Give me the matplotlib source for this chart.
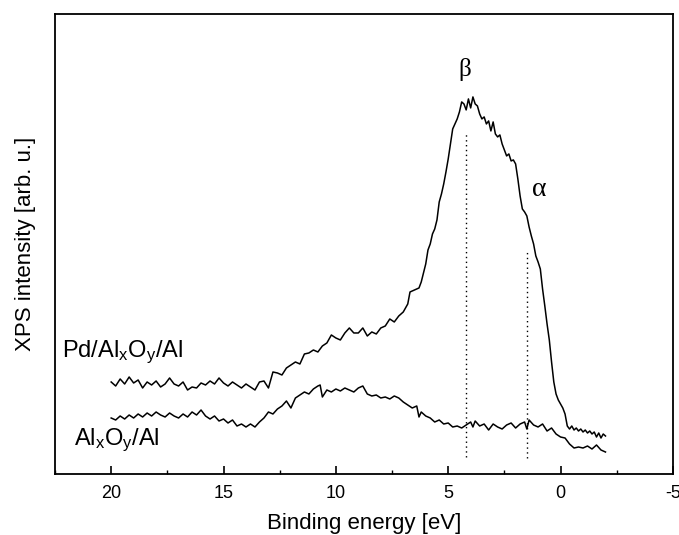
import numpy as np
import matplotlib
matplotlib.use("Agg")
import matplotlib.pyplot as plt
from matplotlib.ticker import MultipleLocator

# --- data (intensity in arbitrary units) ---
pd_energy = [20.0, 19.8, 19.6, 19.4, 19.2, 19.0, 18.8, 18.6, 18.4, 18.2, 18.0, 17.8, 17.6, 17.4,
             17.2, 17.0, 16.8, 16.6, 16.4, 16.2, 16.0, 15.8, 15.6, 15.4, 15.2, 15.0, 14.8, 14.6,
             14.4, 14.2, 14.0, 13.8, 13.6, 13.4, 13.2, 13.0, 12.8, 12.6, 12.4, 12.2, 12.0, 11.8,
             11.6, 11.4, 11.2, 11.0, 10.8, 10.6, 10.4, 10.2, 10.0, 9.8, 9.6, 9.4, 9.2, 9.0, 8.8,
             8.6, 8.4, 8.2, 8.0, 7.8, 7.6, 7.4, 7.2, 7.0, 6.8, 6.7, 6.5, 6.3, 6.2, 6.0, 5.9, 5.8,
             5.7, 5.6, 5.5, 5.4, 5.3, 5.2, 5.1, 5.0, 4.9, 4.8, 4.7, 4.6, 4.5, 4.4, 4.3, 4.2, 4.1,
             4.0, 3.9, 3.8, 3.7, 3.6, 3.5, 3.4, 3.3, 3.2, 3.1, 3.0, 2.9, 2.8, 2.7, 2.6, 2.5, 2.4,
             2.3, 2.2, 2.1, 2.0, 1.9, 1.8, 1.7, 1.6, 1.5, 1.4, 1.3, 1.2, 1.1, 1.0, 0.9, 0.8, 0.7,
             0.6, 0.5, 0.4, 0.3, 0.2, 0.1, 0.0, -0.1, -0.2, -0.3, -0.4, -0.5, -0.6, -0.7, -0.8,
             -0.9, -1.0, -1.1, -1.2, -1.3, -1.4, -1.5, -1.6, -1.7, -1.8, -1.9, -2.0]
pd_counts = [92, 88, 95, 90, 97, 91, 94, 86, 92, 89, 93, 87, 90, 96,
             90, 88, 92, 84, 87, 86, 91, 89, 93, 90, 96, 91, 88, 92,
             89, 86, 90, 87, 84, 92, 93, 86, 102, 101, 99, 106, 109, 112,
             110, 120, 121, 124, 122, 128, 131, 139, 136, 134, 141, 146, 141, 141, 146,
             138, 142, 140, 146, 148, 155, 152, 158, 162, 170, 182, 184, 186, 192, 210, 224, 230,
             240, 245, 254, 272, 280, 290, 302, 315, 330, 345, 350, 355, 362, 372, 370, 364, 375,
             366, 377, 370, 368, 360, 355, 357, 350, 353, 343, 352, 340, 337, 339, 330, 324, 318,
             320, 313, 314, 310, 295, 278, 265, 262, 258, 247, 238, 230, 218, 212, 205, 185, 168,
             150, 134, 112, 92, 80, 74, 70, 66, 60, 48, 45, 48, 44, 46, 43,
             45, 42, 44, 41, 43, 40, 42, 37, 41, 36, 40, 38]

al_energy = [20.0, 19.8, 19.6, 19.4, 19.2, 19.0, 18.8, 18.6, 18.4, 18.2, 18.0, 17.8, 17.6, 17.4,
             17.2, 17.0, 16.8, 16.6, 16.4, 16.2, 16.0, 15.8, 15.6, 15.4, 15.2, 15.0, 14.8, 14.6,
             14.4, 14.2, 14.0, 13.8, 13.6, 13.4, 13.2, 13.0, 12.8, 12.6, 12.4, 12.2, 12.0, 11.8,
             11.6, 11.4, 11.2, 11.0, 10.8, 10.7, 10.6, 10.4, 10.2, 10.0, 9.8, 9.6, 9.4, 9.2, 9.0,
             8.8, 8.6, 8.4, 8.2, 8.0, 7.8, 7.6, 7.4, 7.2, 7.0, 6.8, 6.6, 6.4, 6.3, 6.2, 6.0, 5.8,
             5.6, 5.4, 5.2, 5.0, 4.8, 4.6, 4.4, 4.2, 4.0, 3.9, 3.8, 3.6, 3.4, 3.2, 3.0, 2.8, 2.6,
             2.4, 2.2, 2.0, 1.8, 1.6, 1.5, 1.4, 1.2, 1.0, 0.8, 0.6, 0.4, 0.2, 0.0, -0.2, -0.4,
             -0.6, -0.8, -1.0, -1.2, -1.4, -1.6, -1.8, -2.0]
al_counts = [56, 54, 58, 55, 59, 56, 60, 57, 61, 58, 62, 59, 57, 61,
             58, 56, 60, 57, 62, 59, 64, 58, 55, 58, 53, 55, 51, 54,
             48, 50, 47, 50, 47, 52, 56, 62, 60, 65, 68, 73, 66, 76,
             79, 82, 80, 85, 88, 89, 77, 84, 82, 85, 83, 86, 84, 82, 86,
             88, 80, 78, 79, 76, 77, 75, 78, 76, 72, 69, 66, 68, 57, 62, 58, 56,
             52, 54, 50, 51, 47, 48, 46, 49, 52, 47, 53, 48, 50, 44, 50, 47, 45,
             49, 51, 46, 50, 52, 45, 54, 49, 47, 50, 43, 46, 40, 37, 36, 30,
             26, 27, 26, 28, 25, 29, 24, 22]

# peak positions marked with dotted lines: (energy, bottom, top)
beta_line = (4.22, 17, 342)
alpha_line = (1.5, 16, 224)

plt.rcParams['font.family'] = ['Liberation Sans', 'DejaVu Sans']
plt.rcParams['mathtext.fontset'] = 'custom'
plt.rcParams['mathtext.rm'] = 'Liberation Sans'
plt.rcParams['mathtext.default'] = 'rm'
plt.rcParams['axes.unicode_minus'] = False

fig = plt.figure(figsize=(6.79, 5.35), dpi=100)
ax = fig.add_axes([0.081, 0.114, 0.910, 0.860])

ax.plot(pd_energy, pd_counts, color='black', linewidth=1.1)
ax.plot(al_energy, al_counts, color='black', linewidth=1.1)

for x, y0, y1 in (beta_line, alpha_line):
    ax.vlines(x, y0, y1, colors='black', linestyles=(0, (1, 2.5)), linewidth=1.0)

ax.text(4.27, 404, 'β', family='Liberation Serif', fontsize=18, ha='center', va='center')
ax.text(0.93, 284, 'α', family='Liberation Serif', fontsize=20, ha='center', va='center')
ax.text(22.2, 122, 'Pd/Al$_x$O$_y$/Al', fontsize=17, ha='left', va='center')
ax.text(21.65, 34, 'Al$_x$O$_y$/Al', fontsize=17, ha='left', va='center')

ax.set_xlim(22.5, -5)
ax.set_ylim(0, 460)
ax.xaxis.set_major_locator(MultipleLocator(5))
ax.xaxis.set_minor_locator(MultipleLocator(2.5))
ax.tick_params(axis='x', which='major', direction='in', length=6, width=1.2, labelsize=13, pad=8)
ax.tick_params(axis='x', which='minor', direction='in', length=3, width=1.0)
ax.set_yticks([])
for s in ax.spines.values():
    s.set_linewidth(1.3)

ax.set_xlabel('Binding energy [eV]', fontsize=16, labelpad=8)
ax.set_ylabel('XPS intensity [arb. u.]', fontsize=16, labelpad=14)

fig.savefig('out.png', dpi=100)
